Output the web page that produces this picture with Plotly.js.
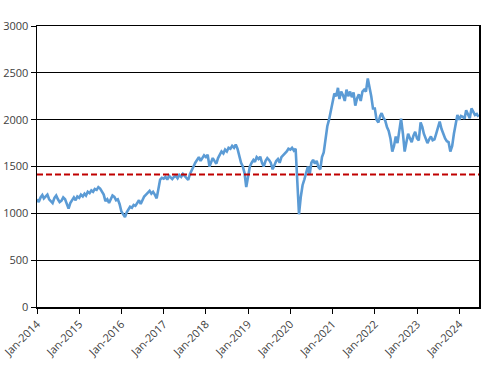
<!DOCTYPE html>
<html><head><meta charset="utf-8">
<script src="https://cdn.plot.ly/plotly-3.0.1.min.js"></script>
<style>html,body{margin:0;padding:0;background:#fff}</style>
</head><body><div id="chart" style="width:496px;height:369px"></div>
<script>
// semi-monthly readings (1st and 16th of each month)
const startYear = 2014;
const values2014 = [1150,1120,1170,1195,1160,1185,1200,1150,1130,1110,1165,1190,1150,1120,1135,1170,1150,1090,1050,1110,1150,1170,1140,1180];
const values2015 = [1165,1200,1180,1210,1190,1230,1215,1245,1230,1260,1250,1280,1265,1240,1200,1130,1150,1110,1160,1190,1175,1140,1150,1100];
const values2016 = [1020,990,960,1010,1040,1070,1060,1090,1080,1110,1140,1100,1150,1180,1200,1220,1240,1210,1230,1200,1160,1260,1360,1380];
const values2017 = [1370,1390,1360,1400,1380,1365,1390,1400,1375,1410,1390,1420,1400,1380,1356,1420,1470,1500,1540,1570,1600,1560,1590,1620];
const values2018 = [1600,1625,1500,1540,1590,1560,1530,1590,1620,1660,1640,1680,1660,1700,1690,1720,1700,1735,1690,1600,1540,1500,1430,1280];
const values2019 = [1420,1500,1540,1570,1550,1600,1580,1605,1540,1500,1560,1590,1570,1540,1470,1520,1560,1580,1540,1600,1620,1640,1660,1690];
const values2020 = [1680,1700,1670,1690,1400,990,1180,1300,1360,1420,1500,1410,1540,1570,1530,1560,1490,1470,1600,1650,1800,1930,2000,2100];
const values2021 = [2180,2280,2250,2340,2220,2300,2260,2200,2320,2250,2300,2240,2290,2150,2230,2270,2200,2300,2320,2300,2440,2350,2250,2120];
const values2022 = [2120,2000,1970,2040,2070,2020,1990,1920,1880,1800,1660,1720,1820,1750,1880,2010,1850,1660,1760,1850,1800,1760,1830,1870];
const values2023 = [1800,1780,1970,1920,1850,1800,1750,1790,1820,1780,1790,1850,1920,1980,1900,1850,1800,1770,1760,1660,1720,1850,1940,2050];
const values2024 = [2000,2040,2030,2010,2100,2060,2015,2120,2080,2050,2060,2030];
const referenceLevel = 1415;
const yTicks = [0,500,1000,1500,2000,2500,3000];

const values = [].concat(values2014,values2015,values2016,values2017,values2018,values2019,values2020,values2021,values2022,values2023,values2024);
const dates = [];
for (let i = 0; i < values.length; i++) {
  const m = Math.floor(i/2);
  const y = startYear + Math.floor(m/12);
  const mo = (m % 12) + 1;
  const d = (i % 2 === 0) ? '01' : '16';
  dates.push(y + '-' + String(mo).padStart(2,'0') + '-' + d);
}

const font = {family: 'Open Sans, sans-serif', size: 11, color: '#404040'};
Plotly.newPlot('chart', [{
  x: dates, y: values, type: 'scatter', mode: 'lines',
  line: {color: '#5b9bd5', width: 2.6}, hoverinfo: 'skip'
}], {
  width: 496, height: 369,
  margin: {l: 37, r: 17, t: 26, b: 62},
  paper_bgcolor: '#fff', plot_bgcolor: '#fff',
  showlegend: false,
  font: font,
  xaxis: {
    type: 'date', range: ['2014-01-01','2024-06-20'],
    tick0: '2014-01-01', dtick: 'M12', tickformat: '%b-%Y', tickangle: -45,
    showgrid: false, showline: true, linecolor: '#000', linewidth: 1.5, mirror: true,
    ticks: 'outside', ticklen: 5, tickcolor: '#000', tickfont: font, zeroline: false
  },
  yaxis: {
    range: [0,3000], tickvals: yTicks, ticktext: yTicks.map(String),
    showgrid: true, gridcolor: '#000', gridwidth: 1,
    showline: true, linecolor: '#000', linewidth: 1.5, mirror: true,
    ticks: 'outside', ticklen: 5, tickcolor: '#000', tickfont: font, zeroline: false
  },
  shapes: [{type: 'line', xref: 'paper', x0: 0, x1: 1, yref: 'y', y0: referenceLevel, y1: referenceLevel,
    line: {color: '#c00000', width: 2, dash: '6px,3px'}}]
}, {displayModeBar: false, staticPlot: true});
</script></body></html>
